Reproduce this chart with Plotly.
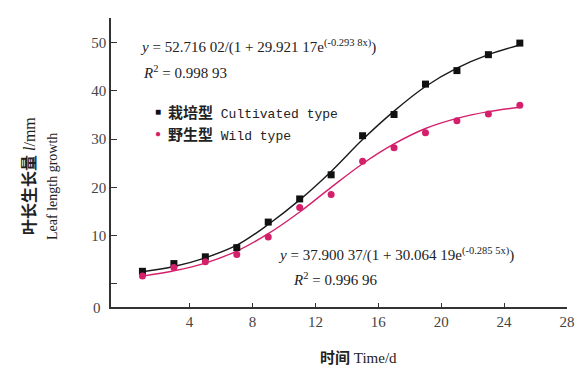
import plotly.graph_objects as go

# measured points
days = [1, 3, 5, 7, 9, 11, 13, 15, 17, 19, 21, 23, 25]
cultivated = [2.6, 4.2, 5.6, 7.5, 12.8, 17.6, 22.6, 30.7, 35.1, 41.4, 44.2, 47.5, 49.9]
wild = [1.6, 3.4, 4.6, 6.1, 9.7, 15.8, 18.5, 25.4, 28.2, 31.3, 33.8, 35.2, 37.0]

# fitted curves
curve_days = [1, 3, 5, 7, 9, 11, 13, 15, 17, 19, 21, 23, 25]
cultivated_fit = [2.5, 3.6, 5.4, 8.0, 12.3, 17.4, 23.3, 29.9, 35.8, 40.9, 44.7, 47.5, 49.5]
wild_fit = [1.6, 2.7, 4.3, 6.8, 10.4, 14.9, 20.0, 24.9, 29.0, 32.2, 34.3, 35.7, 36.6]

y_ticks = [0, 10, 20, 30, 40, 50]
y_ticktext = ["", "10", "20", "30", "40", "50"]
x_ticks = [4, 8, 12, 16, 20, 24, 28]

FONT = "Liberation Serif, Noto Sans CJK SC, serif"
MONO = "Liberation Mono, Noto Sans CJK SC, monospace"
BLACK = "#1a1a1a"
PINK = "#d4206a"
TXT = "#222222"

fig = go.Figure()
fig.add_trace(go.Scatter(x=curve_days, y=cultivated_fit, mode="lines",
    line=dict(color=BLACK, width=1.4, shape="spline", smoothing=1.0), showlegend=False))
fig.add_trace(go.Scatter(x=curve_days, y=wild_fit, mode="lines",
    line=dict(color=PINK, width=1.4, shape="spline", smoothing=1.0), showlegend=False))
fig.add_trace(go.Scatter(x=days, y=cultivated, mode="markers", name="栽培型 Cultivated type",
    marker=dict(symbol="square", size=7, color="#111111"), showlegend=False))
fig.add_trace(go.Scatter(x=days, y=wild, mode="markers", name="野生型 Wild type",
    marker=dict(symbol="circle", size=7, color=PINK), showlegend=False))

fig.update_layout(
    width=585, height=365,
    margin=dict(l=103, r=26, t=10, b=66),
    paper_bgcolor="white", plot_bgcolor="white",
    font=dict(family=FONT, size=15, color="#333333"),
    xaxis=dict(range=[-1, 28], tickvals=x_ticks, ticks="inside", ticklen=4,
               tickcolor="#333", showline=True, linecolor="#333", linewidth=1.5,
               showgrid=False, zeroline=False, tickfont=dict(size=15, color="#444")),
    yaxis=dict(range=[-4.8, 55.1], tickvals=y_ticks, ticktext=y_ticktext,
               ticks="inside", ticklen=6, tickcolor="#333", showline=True,
               linecolor="#333", linewidth=1.5, showgrid=False, zeroline=False,
               tickfont=dict(size=15, color="#444")),
)

ann = []
def A(text, x, y, size=15, xanchor="left", color=TXT, family=FONT, **kw):
    ann.append(dict(text=text, x=x, y=y, xref="paper", yref="paper",
                    xanchor=xanchor, yanchor="middle", showarrow=False,
                    font=dict(family=family, size=size, color=color), **kw))

def px(xp, yp):
    return (xp - 103) / (559 - 103), (299 - yp) / (299 - 10)

x0, y0 = px(130, 38)
A("<i>y</i> = 52.716 02/(1 + 29.921 17e<sup>(-0.293 8x)</sup>)", x0, y0)
x0, y0 = px(133, 64)
A("<i>R</i><sup>2</sup> = 0.998 93", x0, y0)
x0, y0 = px(268, 246)
A("<i>y</i> = 37.900 37/(1 + 30.064 19e<sup>(-0.285 5x)</sup>)", x0, y0)
x0, y0 = px(283, 271)
A("<i>R</i><sup>2</sup> = 0.996 96", x0, y0)
# legend
x0, y0 = px(158, 103)
A("<span style='font-family:Noto Sans CJK SC;font-size:15px;font-weight:bold'>栽培型</span> Cultivated type",
  x0, y0, size=13, family=MONO)
x0, y0 = px(158, 125)
A("<span style='font-family:Noto Sans CJK SC;font-size:15px;font-weight:bold'>野生型</span> Wild type",
  x0, y0, size=13, family=MONO)
x0, y0 = px(150, 103)
A("■", x0, y0, size=10, xanchor="center", color="#111111")
x0, y0 = px(150, 125)
A("●", x0, y0, size=10, xanchor="center", color=PINK)
# "0" label at axis bottom
x0, y0 = px(89, 300)
A("0", x0, y0, xanchor="center", color="#444")
# axis titles
x0, y0 = px(350, 350)
A("<b>时间</b> Time/d", x0, y0, xanchor="center")
x0, y0 = px(22, 168)
A("<b>叶长生长量</b> <i>l</i>/mm", x0, y0, size=16, xanchor="center", textangle=-90)
x0, y0 = px(44, 178)
A("Leaf length growth", x0, y0, size=14, xanchor="center", textangle=-90)

fig.update_layout(annotations=ann)
fig.write_html("out.html")
